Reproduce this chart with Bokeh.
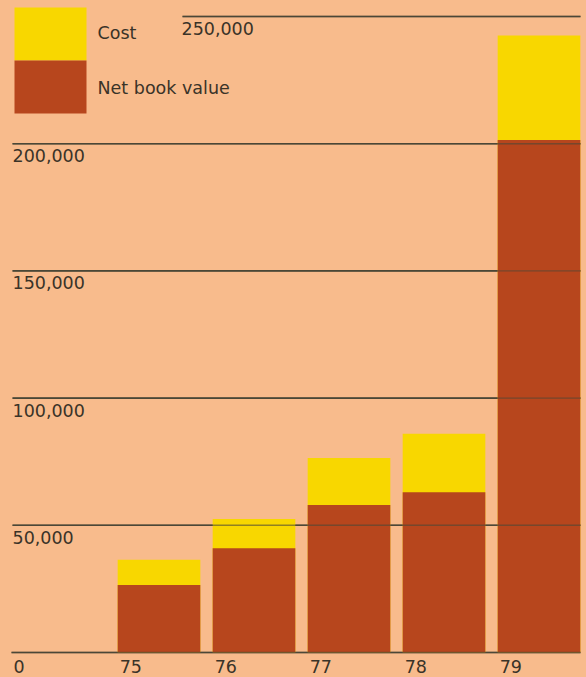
from bokeh.plotting import figure
from bokeh.models import Range1d, ColumnDataSource
from bokeh.core.properties import value
from bokeh.embed import file_html
from bokeh.resources import INLINE

# ---------------- data ----------------
years = [75, 76, 77, 78, 79]
year_labels = ["75", "76", "77", "78", "79"]
cost = [36500, 52500, 76500, 86000, 242500]
net_book_value = [26500, 41000, 58000, 63000, 201500]
y_ticks = [0, 50000, 100000, 150000, 200000, 250000]
y_tick_labels = ["0", "50,000", "100,000", "150,000", "200,000", "250,000"]
series_names = ["Cost", "Net book value"]

# ---------------- style / layout ----------------
BG = "#F8BB8C"
YELLOW = "#F8D700"
BROWN = "#B7461D"
GRID = "#4B4837"
TEXT = "#3A3328"
FONT = "DejaVu Sans"
FSIZE = "17.5px"

W, H = 586, 677
PX_PER_YEAR = 95.0
PX_PER_UNIT = 636.0 / 250000.0
X0 = 75 - 158.5 / PX_PER_YEAR
X1 = X0 + W / PX_PER_YEAR
Y_TOP = 652 / PX_PER_UNIT
Y_BOT = (652 - H) / PX_PER_UNIT
BAR_W = 0.87


def xpx(ref_x):
    return X0 + ref_x / PX_PER_YEAR


def ypx(ref_y):
    return (652 - ref_y) / PX_PER_UNIT


p = figure(width=W, height=H, output_backend="svg", toolbar_location=None,
           x_range=Range1d(X0, X1), y_range=Range1d(Y_BOT, Y_TOP),
           min_border=0, min_border_left=0, min_border_right=0,
           min_border_top=0, min_border_bottom=0)
p.axis.visible = False
p.xgrid.visible = False
p.ygrid.visible = False
p.outline_line_color = None
p.background_fill_color = BG
p.border_fill_color = BG

# gridlines
grid_start_px = [11, 12, 12, 12, 12, 182]
grid_end_px = 580
gx0 = [xpx(g) for g in grid_start_px]
gx1 = [xpx(grid_end_px)] * len(y_ticks)
p.segment(x0=gx0, y0=y_ticks, x1=gx1, y1=y_ticks,
          line_color=GRID, line_width=1.6)

# bars
src = ColumnDataSource(dict(x=years, cost=cost, nbv=net_book_value))
p.vbar(x="x", top="cost", bottom=0, width=BAR_W, source=src,
       fill_color=YELLOW, line_color=None)
p.vbar(x="x", top="nbv", bottom=0, width=BAR_W, source=src,
       fill_color=BROWN, line_color=None)

# gridlines show faintly through the bars in the reference
p.segment(x0=gx0, y0=y_ticks, x1=gx1, y1=y_ticks,
          line_color=GRID, line_width=1.4, line_alpha=0.6)

# y tick labels (below their lines, left aligned)
label_x_px = [12, 12, 12, 12, 12, 181]
lbl_x = [xpx(v) for v in label_x_px[1:]]
p.text(x=lbl_x, y=y_ticks[1:], text=y_tick_labels[1:],
       text_font=value(FONT), text_font_size=FSIZE, text_color=TEXT,
       text_align="left", text_baseline="alphabetic", y_offset=12)

# x labels row: "0" and years
row_x = [xpx(13)] + [yr - BAR_W / 2 + 2 / PX_PER_YEAR for yr in years]
row_t = [y_tick_labels[0]] + year_labels
p.text(x=row_x, y=[0] * len(row_x), text=row_t,
       text_font=value(FONT), text_font_size=FSIZE, text_color=TEXT,
       text_align="left", text_baseline="alphabetic", y_offset=14)

# legend swatches
p.quad(left=[xpx(14), xpx(14)], right=[xpx(86), xpx(86)],
       top=[ypx(7), ypx(60)], bottom=[ypx(60), ypx(113)],
       fill_color=[YELLOW, BROWN], line_color=None)
p.text(x=[xpx(97), xpx(97)], y=[ypx(32), ypx(87)], text=series_names,
       text_font=value(FONT), text_font_size=FSIZE, text_color=TEXT,
       text_align="left", text_baseline="alphabetic")

html = file_html(p, INLINE)
html = html.replace(
    "<head>",
    "<head><style>html,body{margin:0;padding:0;overflow:hidden;background:%s;}</style>" % BG,
    1)
open("out.html", "w").write(html)
